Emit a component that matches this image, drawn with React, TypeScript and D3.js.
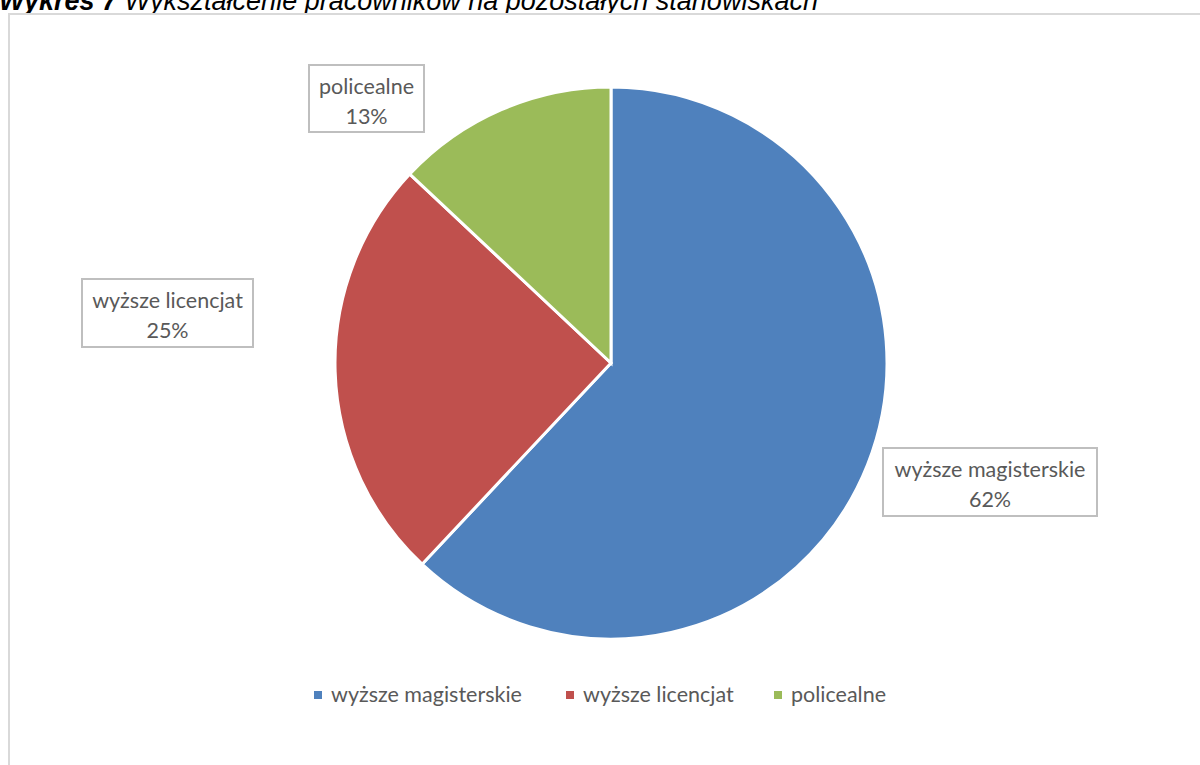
import React from "react";
import * as d3 from "d3";

const categories = ["wyższe magisterskie", "wyższe licencjat", "policealne"];
const values = [62, 25, 13];
const colors = ["#4F81BD", "#C0504D", "#9BBB59"];
const titleBold = "Wykres 7";
const titleRest = " Wykształcenie pracowników na pozostałych stanowiskach";

// label box placement (layout only)
const labelBoxes = [
  { x: 883, y: 448, w: 214, h: 68 },
  { x: 82, y: 279, w: 171, h: 68 },
  { x: 309, y: 65, w: 115, h: 67 },
];
const legendX = [318, 570, 778];

export default function App() {
  const W = 1200, H = 765;
  const cx = 611, cy = 363, r = 276;
  const pie = d3.pie<number>().sort(null).value((d) => d);
  const arcs = pie(values);
  const arc = d3.arc<d3.PieArcDatum<number>>().innerRadius(0).outerRadius(r);
  const total = d3.sum(values);
  const fmt = d3.format(".0%");
  const font = "Lato, 'Open Sans', sans-serif";
  const fs = 21.5;

  return (
    <svg width={W} height={H} style={{ position: "absolute", left: 0, top: 0, background: "#fff" }}>
      <text x={-1} y={10} fontFamily="'Liberation Sans', Arial, sans-serif" fontSize={27} fontStyle="italic" fill="#000">
        <tspan fontWeight="bold">{titleBold}</tspan>
        <tspan>{titleRest}</tspan>
      </text>
      <rect x={9} y={14} width={1220} height={800} fill="#fff" stroke="#d9d9d9" strokeWidth={2} />
      <g transform={`translate(${cx},${cy})`}>
        {arcs.map((a, i) => (
          <path key={i} d={arc(a) || ""} fill={colors[i]} stroke="#fff" strokeWidth={3} strokeLinejoin="miter" />
        ))}
      </g>
      {labelBoxes.map((b, i) => (
        <g key={i}>
          <rect x={b.x} y={b.y} width={b.w} height={b.h} fill="#fff" stroke="#bfbfbf" strokeWidth={2} />
          <text x={b.x + b.w / 2} y={b.y + 29} textAnchor="middle" fontFamily={font} fontSize={fs} fill="#595959">
            {categories[i]}
          </text>
          <text x={b.x + b.w / 2} y={b.y + 59} textAnchor="middle" fontFamily={font} fontSize={fs} fill="#595959">
            {fmt(values[i] / total)}
          </text>
        </g>
      ))}
      {categories.map((c, i) => (
        <g key={c}>
          <rect x={legendX[i] - 4} y={691} width={8} height={8} fill={colors[i]} />
          <text x={legendX[i] + 13} y={702} fontFamily={font} fontSize={fs} fill="#595959">
            {c}
          </text>
        </g>
      ))}
    </svg>
  );
}
